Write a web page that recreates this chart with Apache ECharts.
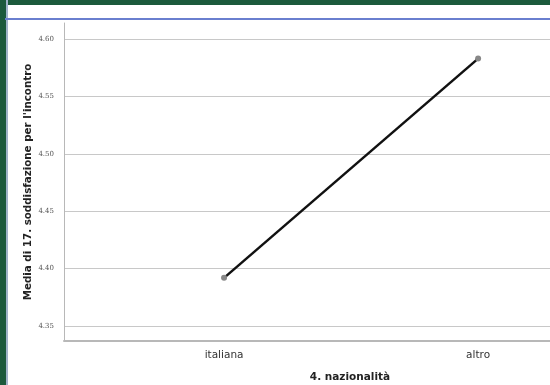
<!DOCTYPE html>
<html><head><meta charset="utf-8">
<script src="https://cdn.jsdelivr.net/npm/echarts@6/dist/echarts.min.js"></script>
<style>
html,body{margin:0;padding:0;background:#fff;}
#wrap{position:relative;width:550px;height:385px;overflow:hidden;background:#fff;}
#chart{position:absolute;left:0;top:0;width:550px;height:385px;}
.g1{position:absolute;left:0;top:0;width:550px;height:5px;background:#1c5a3c;}
.g2{position:absolute;left:0;top:0;width:6px;height:385px;background:#1c5a3c;}
.g3{position:absolute;left:6px;top:0;width:2px;height:385px;background:#9fb3c8;}
.b1{position:absolute;left:5px;top:18px;width:545px;height:2px;background:#6a7fcf;}
</style></head>
<body><div id="wrap"><div id="chart"></div><div class="g1"></div><div class="g2"></div><div class="g3"></div><div class="b1"></div></div>
<script>
const categories = ['italiana', 'altro'];
const values = [4.392, 4.583];
const yTicks = [4.35, 4.40, 4.45, 4.50, 4.55, 4.60];
const xTitle = '4. nazionalità';
const yTitle = "Media di 17. soddisfazione per l'incontro";

const chart = echarts.init(document.getElementById('chart'), null, {renderer: 'canvas'});
chart.setOption({
  animation: false,
  backgroundColor: 'transparent',
  grid: {left: 64, right: 0, top: 23, bottom: 44, containLabel: false, outerBoundsMode: 'none'},
  xAxis: {
    type: 'value', min: -0.63, max: 1.283,
    axisLine: {show: true, onZero: false, lineStyle: {color: '#b8b8b8', width: 2}},
    axisTick: {show: false, customValues: [0, 1]},
    splitLine: {show: false},
    axisLabel: {customValues: [0, 1], formatter: v => categories[Math.round(v)] || '', color: '#333', fontSize: 10.5, fontFamily: 'DejaVu Sans', margin: 9},
    name: xTitle, nameLocation: 'middle', nameGap: 31, nameMoveOverlap: false,
    nameTextStyle: {fontWeight: 'bold', fontSize: 10.5, color: '#222', fontFamily: 'DejaVu Sans', padding: [0,0,0,86]}
  },
  yAxis: {
    type: 'value', min: 4.337, max: 4.614,
    axisLine: {show: true, onZero: false, lineStyle: {color: '#b8b8b8', width: 1}},
    axisTick: {show: false, customValues: yTicks},
    splitLine: {show: true, lineStyle: {color: '#c8c8c8', width: 1}},
    axisLabel: {customValues: yTicks, formatter: v => v.toFixed(2), color: '#555', fontSize: 7, fontFamily: 'DejaVu Serif', margin: 10},
    name: yTitle, nameLocation: 'middle', nameGap: 31, nameRotate: 90, nameMoveOverlap: false,
    nameTextStyle: {fontWeight: 'bold', fontSize: 10.3, color: '#222', fontFamily: 'DejaVu Sans'}
  },
  series: [{
    type: 'line',
    data: categories.map((c, i) => [i, values[i]]),
    lineStyle: {color: '#111', width: 2.5},
    symbol: 'circle', symbolSize: 6,
    itemStyle: {color: '#888'},
    z: 3
  }]
});
</script></body></html>
